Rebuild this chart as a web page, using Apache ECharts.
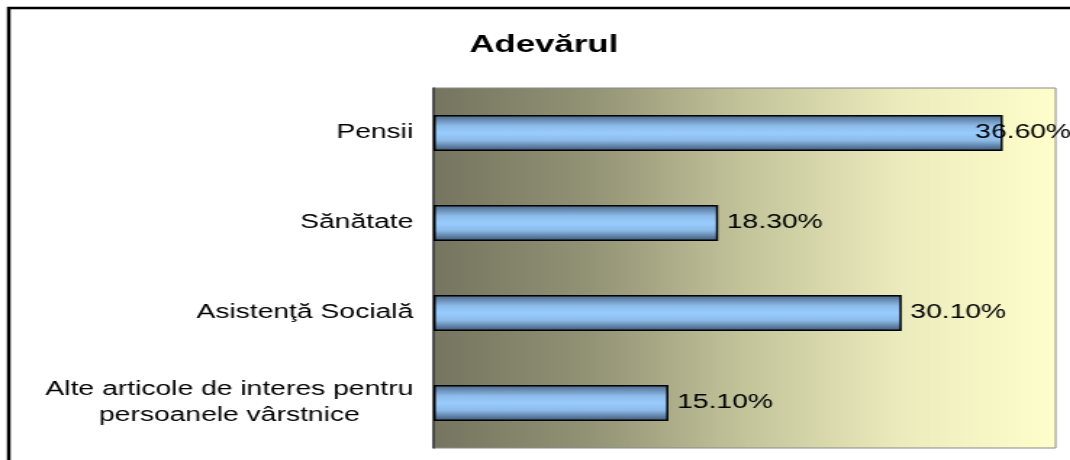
<!DOCTYPE html>
<html>
<head>
<meta charset="utf-8">
<title>Adevărul</title>
<script src="https://cdn.jsdelivr.net/npm/echarts@6/dist/echarts.min.js"></script>
<style>
	html, body { margin: 0; padding: 0; background: #fff; overflow: hidden; }
	/* the reference picture is stretched sideways, so the chart is drawn narrower and scaled in x */
	#chart { width: 738px; height: 460px; transform: scaleX(1.45); transform-origin: 0 0; }
</style>
</head>
<body>
<div id="chart"></div>
<script>
var titleText = 'Adevărul';
var categories = ['Pensii', 'Sănătate', 'Asistenţă Socială', 'Alte articole de interes pentru\npersoanele vârstnice'];
var values = [36.6, 18.3, 30.1, 15.1];
var axisMax = 40;

(function(){
	var myChart = echarts.init(document.getElementById('chart'));
	var font = "'Liberation Sans', Arial, sans-serif";

	var barColor = new echarts.graphic.LinearGradient(0, 0, 0, 1, [
		{offset: 0, color: '#4a6585'},
		{offset: 0.3, color: '#8dbbe9'},
		{offset: 0.5, color: '#99ccff'},
		{offset: 0.7, color: '#8dbbe9'},
		{offset: 1, color: '#3d5573'}
	]);

	var seriesData = values.map(function(v, i){
		var item = {value: v};
		// the first label is pulled back over the bar end, as in the original
		if (i === 0) {
			item.label = {offset: [-25, 0]};
		}
		return item;
	});

	var option = {
		animation: false,
		title: {
			text: titleText,
			left: 370,
			top: 28,
			textAlign: 'center',
			textStyle: {
				color: '#000',
				fontFamily: font,
				fontWeight: 'bold',
				fontSize: 24
			}
		},
		graphic: [{
			type: 'rect',
			shape: {x: 6, y: 8, width: 900, height: 600},
			style: {fill: 'none', stroke: '#000', lineWidth: 2.5},
			silent: true
		}],
		grid: {
			left: 299,
			right: 10,
			top: 88,
			bottom: 12,
			show: true,
			borderColor: '#8a8a8a',
			borderWidth: 1,
			backgroundColor: new echarts.graphic.LinearGradient(0, 0, 1, 0, [
				{offset: 0, color: '#757560'},
				{offset: 0.25, color: '#929275'},
				{offset: 0.5, color: '#c4c49b'},
				{offset: 0.75, color: '#ebebbd'},
				{offset: 1, color: '#ffffcc'}
			])
		},
		xAxis: {
			type: 'value',
			min: 0,
			max: axisMax,
			axisLine: {show: false},
			axisTick: {show: false},
			axisLabel: {show: false},
			splitLine: {show: false}
		},
		yAxis: {
			type: 'category',
			inverse: true,
			data: categories,
			axisLine: {
				lineStyle: {color: '#333', width: 1.5}
			},
			axisTick: {
				length: 4,
				lineStyle: {color: '#333', width: 1}
			},
			axisLabel: {
				margin: 14,
				formatter: function(v){
					return v.split('\n').map(function(s){ return '{c|' + s + '}'; }).join('\n');
				},
				rich: {
					c: {
						align: 'center',
						color: '#000',
						fontFamily: font,
						fontSize: 19.5,
						lineHeight: 26
					}
				}
			}
		},
		series: [{
			type: 'bar',
			data: seriesData,
			barWidth: 36,
			itemStyle: {
				color: barColor,
				borderColor: '#000',
				borderWidth: 1.5
			},
			label: {
				show: true,
				position: 'right',
				distance: 6,
				color: '#000',
				fontFamily: font,
				fontSize: 19.5,
				formatter: function(p){
					return p.value.toFixed(2) + '%';
				}
			}
		}]
	};
	myChart.setOption(option);
})();
</script>
</body>
</html>
